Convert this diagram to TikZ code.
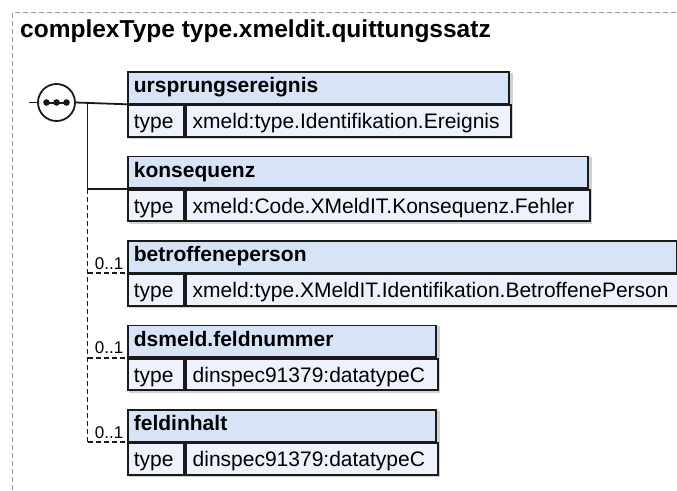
\documentclass[tikz,border=0pt]{standalone}
\usepackage{fontspec}
\setmainfont{Liberation Sans}
\usetikzlibrary{calc,backgrounds}
\definecolor{hdrblue}{HTML}{D7E4F8}
\definecolor{rowblue}{HTML}{EDF2FC}
\definecolor{edge}{HTML}{1A1A1A}
\definecolor{framegray}{HTML}{9A9A9A}
\begin{document}
\begin{tikzpicture}[x=1pt,y=-1pt,
  cell/.style={draw=edge,line width=1.8pt,inner xsep=6pt,inner ysep=0pt,align=left,anchor=north west,
    execute at begin node={\hyphenpenalty=10000}},
  hdr/.style={cell,fill=hdrblue,minimum height=31.5pt,text height=15pt,text depth=5pt,
    font=\fontsize{21}{24}\selectfont\bfseries},
  rowcell/.style={cell,fill=rowblue,minimum height=31.5pt,text height=17pt,text depth=1.5pt,
    font=\fontsize{21}{24}\selectfont},
  typecell/.style={rowcell,text width=44pt},
  valcell/.style={rowcell,inner xsep=7pt},
  conn/.style={draw=edge,line width=1.8pt},
  opt/.style={conn,dash pattern=on 5pt off 3pt},
  mult/.style={anchor=base east,inner sep=0pt,font=\fontsize{17}{20}\selectfont},
  shadowbox/.style={fill=black!18}]
\useasboundingbox (0,0) rectangle (677,490);

% outer dashed frame
\coordinate (fbl) at (12.5,490);
\coordinate (ftl) at (12.5,12.5);
\coordinate (ftr) at (677,12.5);
\draw[framegray,line width=1pt,dash pattern=on 5pt off 3pt] (fbl) -- (ftl) -- (ftr);

% title
\node[anchor=base west,inner sep=0pt,font=\fontsize{24.5}{28}\selectfont\bfseries] (title) at (20,37.5)
  {complexType type.xmeldit.quittungssatz};

% element boxes
\node[hdr,text width=369pt] (h1) at (127,71) {ursprungsereignis};
\node[typecell] (t1) at (h1.south west) {type};
\node[valcell,text width=311pt] (v1) at (t1.north east) {xmeld:type.Identifikation.Ereignis};

\node[hdr,text width=448pt] (h2) at (127,155.5) {konsequenz};
\node[typecell] (t2) at (h2.south west) {type};
\node[valcell,text width=390pt] (v2) at (t2.north east) {xmeld:Code.XMeldIT.Konsequenz.Fehler};

\node[hdr,text width=537pt] (h3) at (127,240) {betroffeneperson};
\node[typecell] (t3) at (h3.south west) {type};
\node[valcell,text width=479pt] (v3) at (t3.north east) {xmeld:type.XMeldIT.Identifikation.BetroffenePerson};

\node[hdr,text width=296pt] (h4) at (127,324.5) {dsmeld.feldnummer};
\node[typecell] (t4) at (h4.south west) {type};
\node[valcell,text width=238pt] (v4) at (t4.north east) {dinspec91379:datatypeC};

\node[hdr,text width=296pt] (h5) at (127,409) {feldinhalt};
\node[typecell] (t5) at (h5.south west) {type};
\node[valcell,text width=238pt] (v5) at (t5.north east) {dinspec91379:datatypeC};

% shadows
\begin{scope}[on background layer]
  \foreach \i in {1,...,5}{
    \fill[shadowbox] ($(h\i.north west)+(1.8,1.8)$) rectangle ($(v\i.south east)+(1.8,1.8)$);
  }
\end{scope}

% sequence compositor
\node[circle,draw=edge,line width=1.8pt,fill=white,minimum size=37pt,inner sep=0pt] (seq) at (56.5,102.5) {};
\draw[edge,line width=2pt] ($(seq.center)+(-10,0)$) -- ($(seq.center)+(10,0)$);
\foreach \dx in {-10,0,10}{
  \fill[edge] ($(seq.center)+(\dx,0)$) circle (3.3pt);
}

% connectors
\coordinate (in) at (29,102.5);
\coordinate (j1) at (87.5,102.5);
\coordinate (j2) at (j1 |- h2.south west);
\coordinate (j5) at (j1 |- h5.south west);
\draw[conn] (in) -- (seq.west);
\draw[conn] (seq.east) -- (h1.south west);
\draw[conn] (j1) -- (j2) -- (h2.south west);
\draw[opt] (j2) -- (j5);
\draw[opt] (j1 |- h3.south west) -- (h3.south west);
\draw[opt] (j1 |- h4.south west) -- (h4.south west);
\draw[opt] (j5) -- (h5.south west);

% multiplicities
\node[mult] (m3) at ($(h3.south west)+(-3.5,-4)$) {0..1};
\node[mult] (m4) at ($(h4.south west)+(-3.5,-4)$) {0..1};
\node[mult] (m5) at ($(h5.south west)+(-3.5,-4)$) {0..1};
\end{tikzpicture}
\end{document}
